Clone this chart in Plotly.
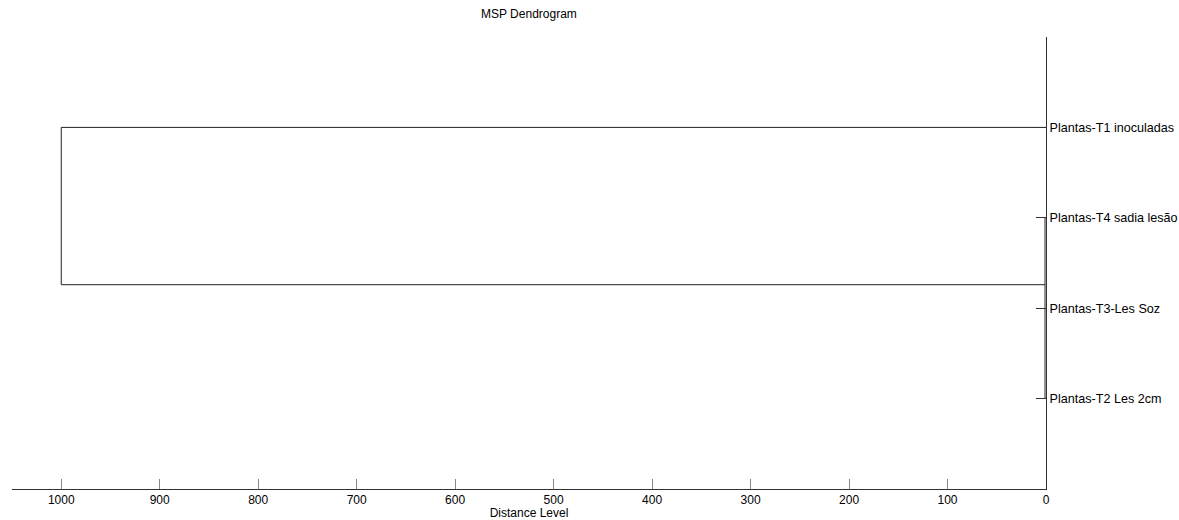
import plotly.graph_objects as go

# Leaves (top to bottom) and their y positions
labels = ["Plantas-T1 inoculadas", "Plantas-T4 sadia lesão", "Plantas-T3-Les Soz", "Plantas-T2 Les 2cm"]
leaf_pos = [4, 3, 2, 1]

# Cluster of T4, T3, T2 merges at near-zero distance
cluster_members = [1, 2, 3]
cluster_dist = 1.0
cluster_node_pos = 2.26

# Root merge of T1 with the cluster
root_dist = 1000.0

x_ticks = [0, 100, 200, 300, 400, 500, 600, 700, 800, 900, 1000]

xs, ys = [], []
ys_members = [leaf_pos[i] for i in cluster_members]
xs += [cluster_dist, cluster_dist, None]
ys += [max(ys_members), min(ys_members), None]
xs += [0, root_dist, None]
ys += [leaf_pos[0], leaf_pos[0], None]
xs += [cluster_dist, root_dist, None]
ys += [cluster_node_pos, cluster_node_pos, None]
xs += [root_dist, root_dist, None]
ys += [leaf_pos[0], cluster_node_pos, None]

fig = go.Figure()
fig.add_trace(go.Scatter(x=xs, y=ys, mode="lines",
                         line=dict(color="#222222", width=1),
                         hoverinfo="skip", showlegend=False, cliponaxis=False))

font = dict(family="Liberation Sans, Arial, sans-serif", size=12, color="#000000")

fig.update_layout(
    width=1179, height=520,
    margin=dict(l=12, r=133, t=37, b=31, autoexpand=False),
    paper_bgcolor="white", plot_bgcolor="white",
    font=font,
    xaxis=dict(range=[1050, 0], tickvals=x_ticks, ticktext=[str(v) for v in x_ticks],
               ticks="inside", ticklen=10, tickcolor="#888888", tickwidth=1,
               showline=True, linecolor="#333333", linewidth=1,
               showgrid=False, zeroline=False, automargin=False,
               title=dict(text="Distance Level", standoff=2, font=font)),
    yaxis=dict(range=[0, 5], side="right", tickvals=leaf_pos, ticktext=labels,
               ticks="inside", ticklen=10, tickcolor="#333333", tickwidth=1,
               showline=True, linecolor="#333333", linewidth=1,
               showgrid=False, zeroline=False, automargin=False,
               tickfont=dict(family="Liberation Sans, Arial, sans-serif", size=12.6, color="#000000")),
    annotations=[dict(text="MSP Dendrogram", xref="paper", yref="paper",
                      x=0.5, y=1 + 23 / 452, xanchor="center", yanchor="middle",
                      showarrow=False,
                      font=dict(family="Liberation Sans, Arial, sans-serif", size=12, color="#000000"))],
)

fig.write_html("out.html",
               config={"displayModeBar": False},
               post_script="document.body.style.margin='0';document.body.style.overflow='hidden';")
